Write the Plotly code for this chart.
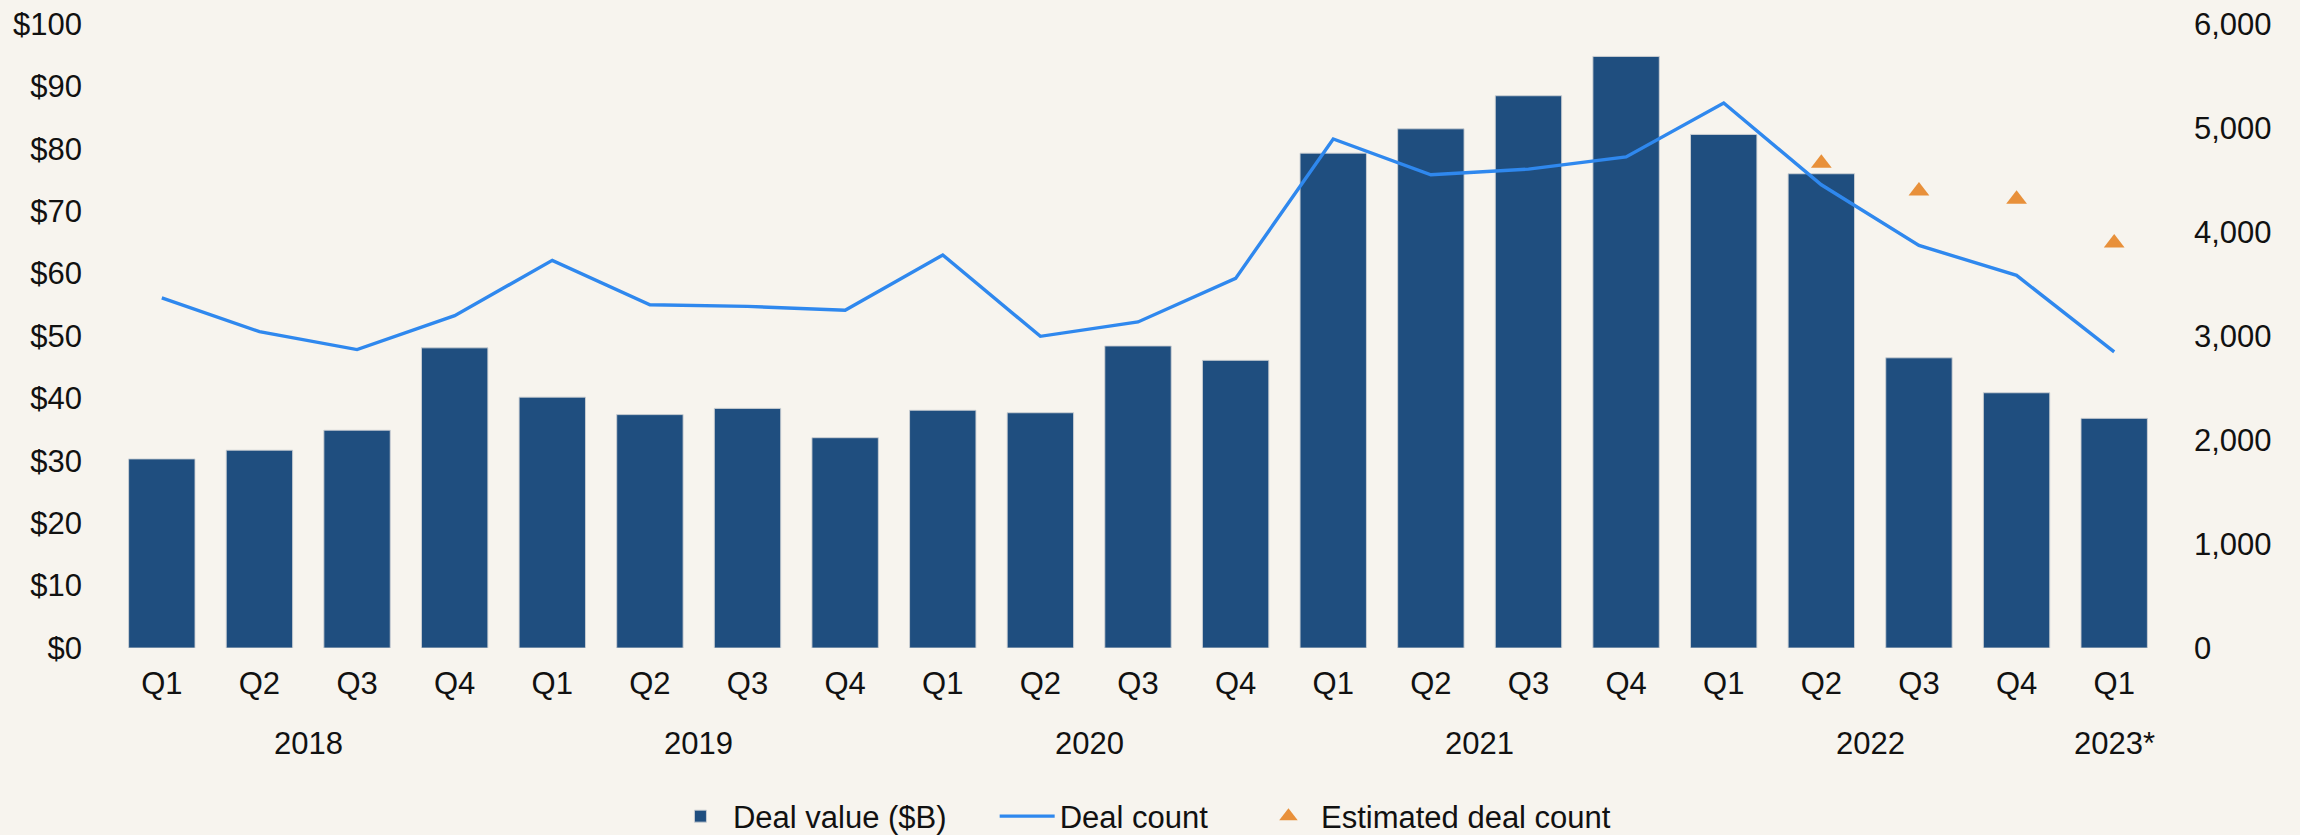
import plotly.graph_objects as go

# ---- data ----
years = ["2018"] * 4 + ["2019"] * 4 + ["2020"] * 4 + ["2021"] * 4 + ["2022"] * 4 + ["2023*"]
quarters = ["Q1", "Q2", "Q3", "Q4"] * 5 + ["Q1"]
deal_value = [30.3, 31.7, 34.9, 48.1,
              40.2, 37.4, 38.4, 33.7,
              38.1, 37.7, 48.4, 46.1,
              79.3, 83.2, 88.5, 94.8,
              82.3, 76.0, 46.5, 40.9,
              36.8]
deal_count = [3366, 3042, 2869, 3196,
              3727, 3301, 3285, 3247,
              3779, 2997, 3135, 3554,
              4894, 4550, 4605, 4722,
              5240, 4454, 3871, 3583,
              2847]
est_deal_count = [None] * 17 + [4660, 4395, 4315, 3895]

left_ticks = list(range(0, 101, 10))
right_ticks = list(range(0, 6001, 1000))

cats = [f"{y} {q}" for y, q in zip(years, quarters)]

BG = "#F7F4EE"
BAR = "#1F4E7F"
LINE = "#2F88EE"
ORANGE = "#E8903A"
FONT = "Liberation Sans, Arial, sans-serif"
FS = 31
PAD = "\u00a0" * 5

fig = go.Figure()
fig.add_trace(go.Bar(
    x=cats, y=deal_value, name="Deal value ($B)" + PAD,
    marker=dict(color=BAR, line=dict(color="rgba(205,208,212,0.9)", width=1)),
    yaxis="y",
))
fig.add_trace(go.Scatter(
    x=cats, y=deal_count, name="Deal count" + PAD, mode="lines",
    line=dict(color=LINE, width=3.4), yaxis="y2",
))
fig.add_trace(go.Scatter(
    x=cats, y=est_deal_count, name="Estimated deal count", mode="markers",
    marker=dict(symbol="triangle-up", size=18, color=ORANGE), yaxis="y2",
))

# year group labels centred under their quarters
annotations = []
seen = []
for y in years:
    if y not in seen:
        seen.append(y)
for y in seen:
    idx = [i for i, yy in enumerate(years) if yy == y]
    annotations.append(dict(
        x=sum(idx) / len(idx), y=-0.153, xref="x", yref="paper",
        text=y, showarrow=False, xanchor="center", yanchor="middle",
        font=dict(family=FONT, size=FS, color="#111111"),
    ))

fig.update_layout(
    width=2300, height=835,
    template="none",
    paper_bgcolor=BG, plot_bgcolor=BG,
    margin=dict(l=113, r=137, t=24, b=187, autoexpand=False),
    font=dict(family=FONT, size=FS, color="#111111"),
    bargap=0.32,
    showlegend=True,
    legend=dict(
        orientation="h", xref="container", x=0.4965, xanchor="center",
        yref="paper", y=-0.27, yanchor="middle",
        font=dict(family=FONT, size=FS, color="#111111"),
        bgcolor="rgba(0,0,0,0)", itemwidth=55, tracegroupgap=0,
    ),
    xaxis=dict(
        type="category", tickmode="array", tickvals=cats, ticktext=quarters,
        showgrid=False, showline=False, zeroline=False, ticks="",
        ticklabelstandoff=14, automargin=False,
        range=[-0.5, len(cats) - 0.5],
    ),
    yaxis=dict(
        range=[0, 100], tickmode="array", tickvals=left_ticks,
        ticktext=[f"${v}" for v in left_ticks],
        showgrid=False, showline=False, zeroline=False, ticks="",
        ticklabelstandoff=30, automargin=False,
    ),
    yaxis2=dict(
        range=[0, 6000], overlaying="y", side="right",
        tickmode="array", tickvals=right_ticks,
        ticktext=[f"{v:,}" for v in right_ticks],
        showgrid=False, showline=False, zeroline=False, ticks="",
        ticklabelstandoff=30, automargin=False,
    ),
    annotations=annotations,
)

fig.write_html(
    "out.html",
    config={"displayModeBar": False},
    post_script="document.body.style.margin='0';document.body.style.overflow='hidden';",
)
